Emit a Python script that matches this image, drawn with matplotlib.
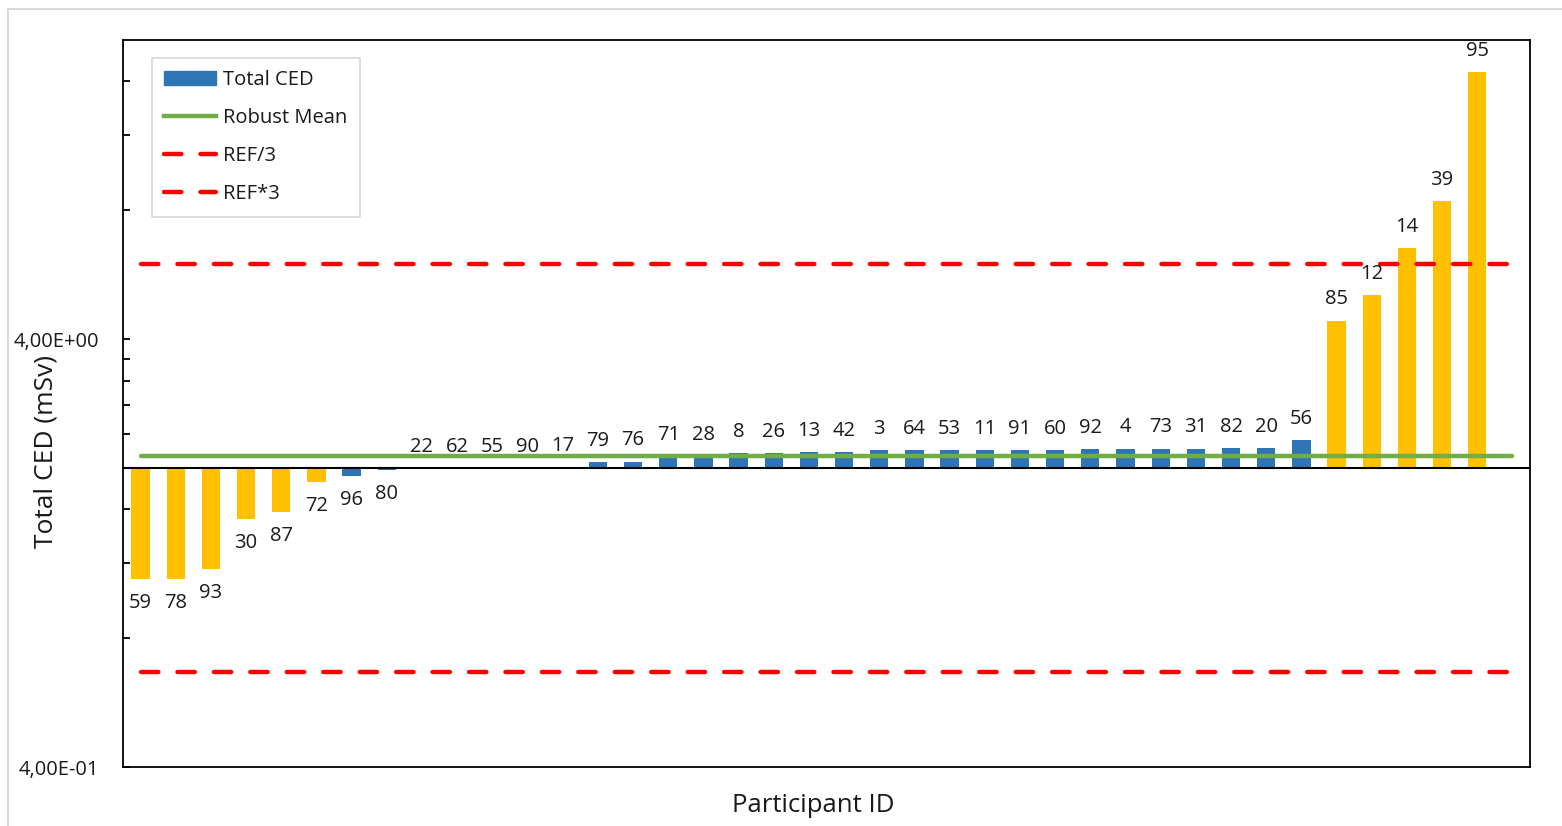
import matplotlib
matplotlib.use("Agg")
import matplotlib.pyplot as plt
from matplotlib.lines import Line2D
from matplotlib.patches import Patch, Rectangle
from matplotlib.ticker import FixedLocator, FuncFormatter, NullFormatter

plt.rcParams['font.family'] = ['Open Sans', 'DejaVu Sans']

# participants sorted by total CED (mSv)
participant_ids = [59, 78, 93, 30, 87, 72, 96, 80, 22, 62, 55, 90, 17, 79, 76, 71, 28, 8, 26, 13,
                   42, 3, 64, 53, 11, 91, 60, 92, 4, 73, 31, 82, 20, 56, 85, 12, 14, 39, 95]
total_ced = [1.10, 1.10, 1.16, 1.52, 1.58, 1.85, 1.91, 1.98, 2.00, 2.00, 2.00, 2.00, 2.01, 2.06,
             2.07, 2.13, 2.13, 2.17, 2.17, 2.18, 2.18, 2.20, 2.20, 2.20, 2.20, 2.20, 2.20, 2.21,
             2.22, 2.22, 2.22, 2.23, 2.23, 2.32, 4.42, 5.07, 6.53, 8.42, 16.8]
outlier_ids = [59, 78, 93, 30, 87, 72, 85, 12, 14, 39, 95]

ref_value = 2.0
robust_mean = 2.13

BLUE = '#2E75B6'
YELLOW = '#FFC000'
GREEN = '#70AD47'
RED = '#FF0000'
TEXT = '#1a1a1a'

W, H = 1562, 826
fig = plt.figure(figsize=(W / 100, H / 100), dpi=100)
ax = fig.add_axes([123 / W, 1 - 767 / H, (1530 - 123) / W, (767 - 40) / H])

# bars hang from the reference value (category axis crosses there)
xs = list(range(len(participant_ids)))
colors = [YELLOW if p in outlier_ids else BLUE for p in participant_ids]
heights = [v - ref_value for v in total_ced]
ax.bar(xs, heights, bottom=ref_value, width=0.52, color=colors, zorder=2)

ax.axhline(ref_value, color='black', lw=1.5, zorder=3)

# horizontal series span one more category than there are bars
line_x = [0, len(participant_ids)]
dash = (0, (3.9, 4.3))
ax.plot(line_x, [robust_mean] * 2, color=GREEN, lw=3.2, zorder=4, solid_capstyle='round')
ax.plot(line_x, [ref_value / 3] * 2, color=RED, lw=3.2, ls=dash, dash_capstyle='round', zorder=4)
ax.plot(line_x, [ref_value * 3] * 2, color=RED, lw=3.2, ls=dash, dash_capstyle='round', zorder=4)

# participant labels at the bar ends
for x, v, p in zip(xs, total_ced, participant_ids):
    if v >= ref_value:
        ax.annotate(str(p), (x, v), xytext=(0, 8), textcoords='offset points',
                    ha='center', va='bottom', fontsize=14.5, color=TEXT, zorder=5)
    else:
        ax.annotate(str(p), (x, v), xytext=(0, -10), textcoords='offset points',
                    ha='center', va='top', fontsize=14.5, color=TEXT, zorder=5)

ax.set_yscale('log')
ax.set_ylim(0.4, 20)
ax.set_xlim(-0.5, len(participant_ids) + 0.5)

ax.yaxis.set_major_locator(FixedLocator([0.4, 4]))
ax.yaxis.set_major_formatter(FuncFormatter(lambda v, pos: f"{v:.2E}".replace('.', ',')))
minor = [0.4 * k for k in range(2, 10)] + [4 * k for k in range(2, 5)]
ax.yaxis.set_minor_locator(FixedLocator(minor))
ax.yaxis.set_minor_formatter(NullFormatter())
ax.tick_params(axis='y', which='both', direction='in', length=5, width=1.3,
               labelsize=14.5, pad=17, colors='black')
ax.tick_params(axis='y', which='major', labelcolor=TEXT)
ax.set_xticks([])

for s in ax.spines.values():
    s.set_linewidth(1.3)
    s.set_color('black')

fig.text(46 / W, 1 - 451 / H, 'Total CED (mSv)', rotation=90, ha='center', va='center',
         fontsize=19, color=TEXT)
fig.text(813 / W, 1 - 806 / H, 'Participant ID', ha='center', va='center',
         fontsize=18.5, color=TEXT)

handles = [
    Patch(facecolor=BLUE, edgecolor=BLUE, label='Total CED'),
    Line2D([], [], color=GREEN, lw=3.2, label='Robust Mean'),
    Line2D([], [], color=RED, lw=3.2, ls=dash, dash_capstyle='round', label='REF/3'),
    Line2D([], [], color=RED, lw=3.2, ls=dash, dash_capstyle='round', label='REF*3'),
]
leg = ax.legend(handles=handles, loc='upper left', bbox_to_anchor=(152 / W, 1 - 58 / H),
                bbox_transform=fig.transFigure, borderaxespad=0, fancybox=False,
                edgecolor='#D9D9D9', fontsize=14.5, handlelength=2.6, handletextpad=0.35,
                labelspacing=0.9, borderpad=0.6, framealpha=1)
leg.get_frame().set_linewidth(1.3)
for t in leg.get_texts():
    t.set_color(TEXT)

# outer chart border
fig.patches.append(Rectangle((8 / W, -0.05), 1.2, 1.05 - 9 / H, fill=False,
                             edgecolor='#D9D9D9', lw=1.5, transform=fig.transFigure))

fig.savefig('out.png', dpi=100)
